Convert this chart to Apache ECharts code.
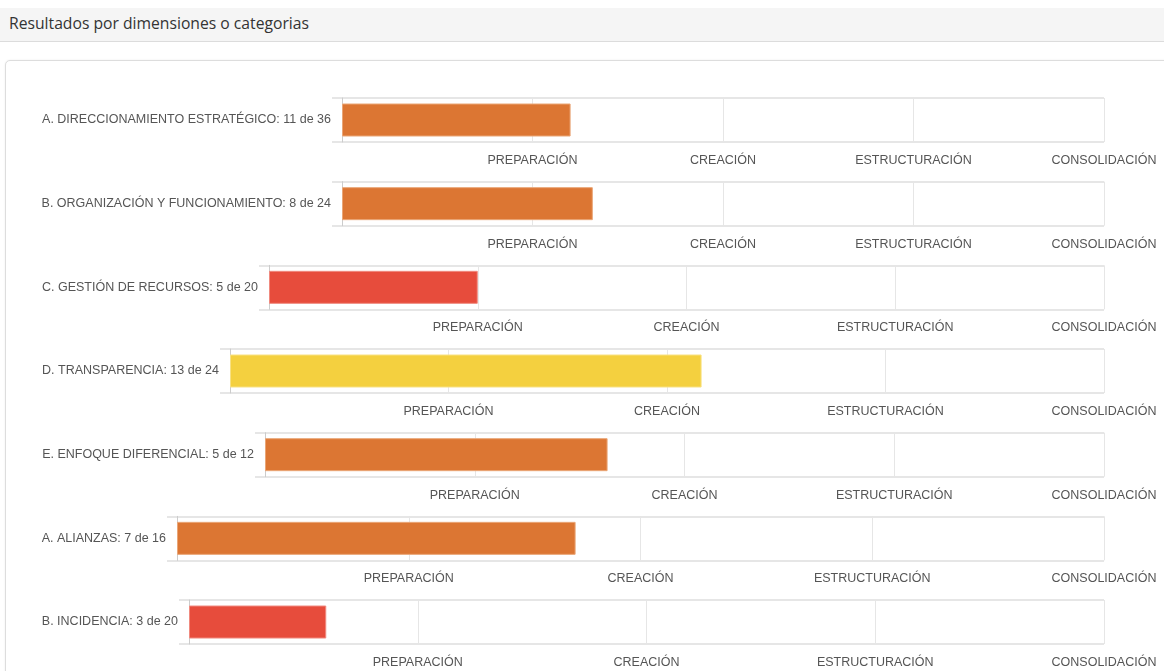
<!DOCTYPE html>
<html>
<head>
<meta charset="utf-8">
<script src="https://cdn.jsdelivr.net/npm/echarts@6/dist/echarts.min.js"></script>
<style>
  html, body { margin: 0; padding: 0; background: #fff; width: 1164px; height: 671px; overflow: hidden; }
  #head { position: absolute; left: 0; top: 8px; width: 1164px; height: 34px; background: #f5f5f5;
          border-bottom: 1px solid #dcdcdc; font-family: "Open Sans", sans-serif; font-size: 15.7px; color: #333;
          line-height: 31px; box-sizing: border-box; padding-left: 9px; }
  #card { position: absolute; left: 5px; top: 60px; width: 1200px; height: 700px; border: 1px solid #dddddd;
          border-radius: 5px; box-shadow: 0 0 2px rgba(0,0,0,0.08); background: #fff; }
  #chart { position: absolute; left: 0; top: 0; width: 1164px; height: 671px; }
</style>
</head>
<body>
<div id="head">Resultados por dimensiones o categorias</div>
<div id="card"></div>
<div id="chart"></div>
<script>
const categories = [
  'A. DIRECCIONAMIENTO ESTRATÉGICO',
  'B. ORGANIZACIÓN Y FUNCIONAMIENTO',
  'C. GESTIÓN DE RECURSOS',
  'D. TRANSPARENCIA',
  'E. ENFOQUE DIFERENCIAL',
  'A. ALIANZAS',
  'B. INCIDENCIA'
];
const scores = [11, 8, 5, 13, 5, 7, 3];
const totals = [36, 24, 20, 24, 12, 16, 20];
// bar lengths as measured on the picture
const barValues = [10.8, 7.9, 5.0, 12.95, 4.9, 6.88, 3.0];
const levelLabels = ['', 'PREPARACIÓN', 'CREACIÓN', 'ESTRUCTURACIÓN', 'CONSOLIDACIÓN'];

function levelColor(ratio) {
  if (ratio <= 0.25) return ['#e74c3c', '#f08a7f'];
  if (ratio < 0.5) return ['#dc7633', '#eaa677'];
  return ['#f4d03f', '#f8e183'];
}

const FONT_FAMILY = 'Liberation Sans, Arial, sans-serif';
const FONT_SIZE = 12.5;
const LABEL_LEFT = 42, LABEL_GAP = 11;
const ctx = document.createElement('canvas').getContext('2d');
ctx.font = FONT_SIZE + 'px ' + FONT_FAMILY;

const chart = echarts.init(document.getElementById('chart'));
const grids = [], xAxes = [], yAxes = [], series = [];
const gridLine = '#e6e6e6';
categories.forEach((name, i) => {
  const total = totals[i];
  const step = total / 4;
  const col = levelColor(scores[i] / total);
  const label = name + ': ' + scores[i] + ' de ' + total;
  const w = ctx.measureText(label).width;
  grids.push({ left: Math.round(LABEL_LEFT + w + LABEL_GAP), right: 60, top: 98 + i * 83.67, height: 44 });
  xAxes.push({
    type: 'value', gridIndex: i, min: 0, max: total, interval: step,
    axisLine: { show: false }, axisTick: { show: false },
    splitLine: { show: true, lineStyle: { color: gridLine, width: 1 } },
    axisLabel: {
      showMinLabel: true, showMaxLabel: true, margin: 12,
      color: '#555', fontFamily: FONT_FAMILY, fontSize: FONT_SIZE,
      formatter: v => levelLabels[Math.round(v / step)] || ''
    }
  });
  yAxes.push({
    type: 'category', gridIndex: i, data: [label],
    axisLine: { show: true, lineStyle: { color: '#cccccc', width: 1 } },
    axisTick: { show: true, length: 10, lineStyle: { color: gridLine, width: 2 } },
    splitLine: { show: true, lineStyle: { color: gridLine, width: 2 } },
    axisLabel: { margin: LABEL_GAP, color: '#555', fontFamily: FONT_FAMILY, fontSize: FONT_SIZE }
  });
  series.push({
    type: 'bar', xAxisIndex: i, yAxisIndex: i, data: [barValues[i]], barWidth: 33,
    itemStyle: { color: col[0], borderColor: col[1], borderWidth: 1 },
    silent: true, animation: false
  });
});
chart.setOption({ animation: false, grid: grids, xAxis: xAxes, yAxis: yAxes, series: series });
</script>
</body>
</html>
